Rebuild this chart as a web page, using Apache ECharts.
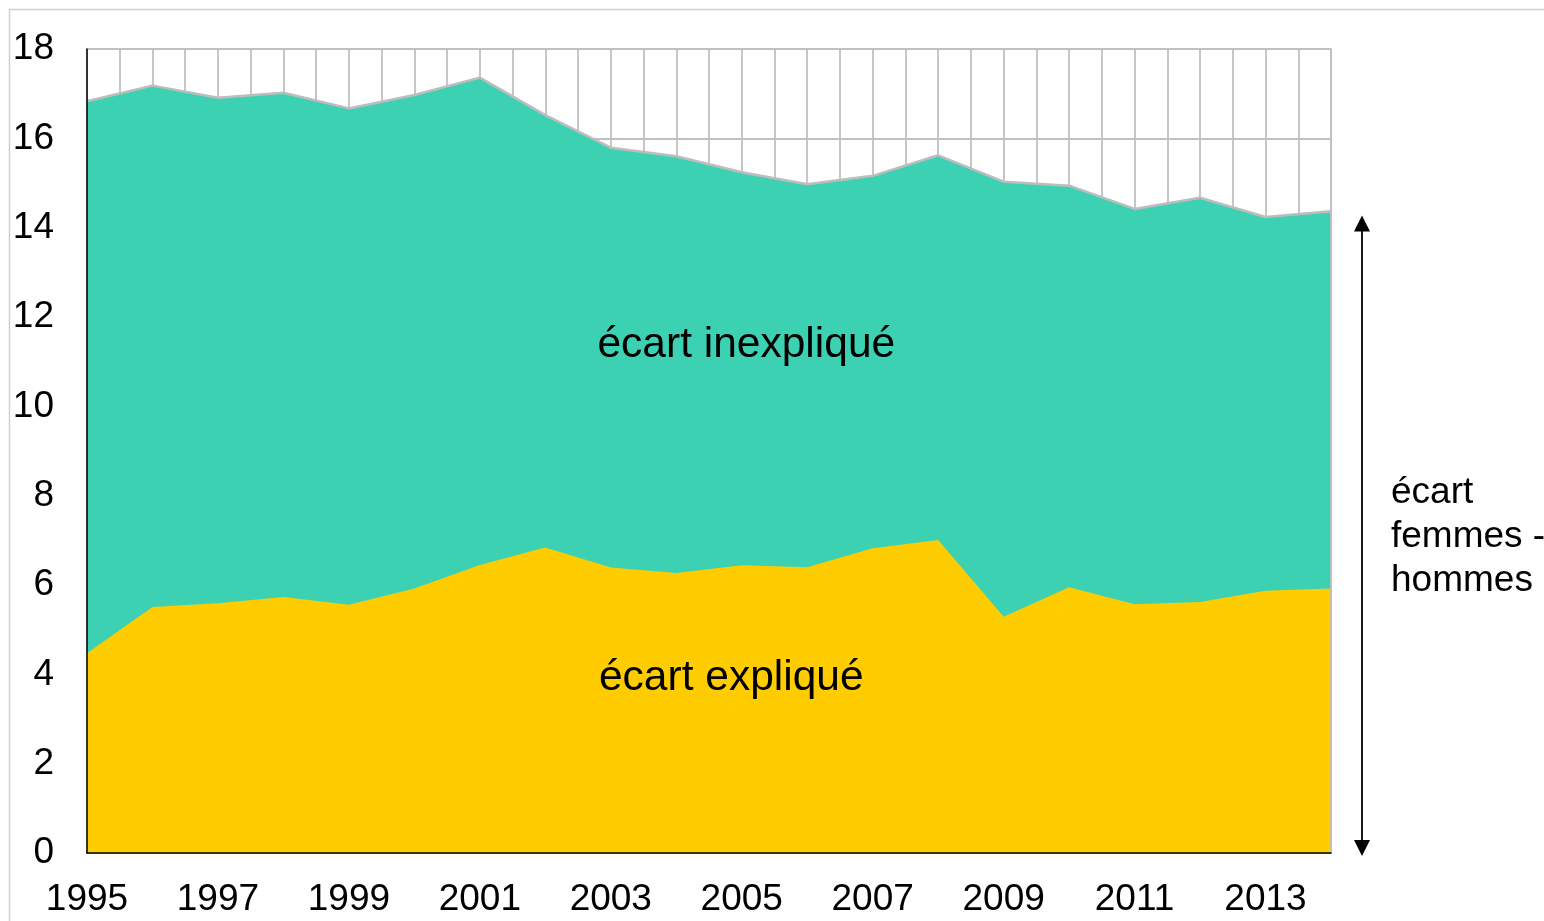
<!DOCTYPE html>
<html>
<head>
<meta charset="utf-8">
<script src="https://cdn.jsdelivr.net/npm/echarts@6/dist/echarts.min.js"></script>
<style>
  html, body { margin: 0; padding: 0; background: #fff; }
  #chart { width: 1544px; height: 921px; }
</style>
</head>
<body>
<div id="chart"></div>
<script>
// écart salarial femmes-hommes (%), décomposition
const years = [1995, 1996, 1997, 1998, 1999, 2000, 2001, 2002, 2003, 2004,
               2005, 2006, 2007, 2008, 2009, 2010, 2011, 2012, 2013, 2014];
const totalGap = [16.83, 17.18, 16.91, 17.02, 16.67, 16.97, 17.36, 16.52, 15.79, 15.60,
                  15.24, 14.97, 15.16, 15.62, 15.03, 14.94, 14.42, 14.67, 14.24, 14.37];
const explainedGap = [4.47, 5.51, 5.59, 5.73, 5.56, 5.92, 6.45, 6.84, 6.39, 6.27,
                      6.44, 6.40, 6.82, 7.01, 5.29, 5.95, 5.57, 5.62, 5.87, 5.92];
const xTickLabels = [1995, 1997, 1999, 2001, 2003, 2005, 2007, 2009, 2011, 2013];
const yTicks = [0, 2, 4, 6, 8, 10, 12, 14, 16, 18];

const FONT = "'Liberation Sans', Arial, sans-serif";
const GRID_GRAY = "#C0C0C0";

const pairs = (vals) => years.map((y, i) => [y, vals[i]]);

const chart = echarts.init(document.getElementById("chart"));

const option = {
  animation: false,
  backgroundColor: "#fff",
  grid: { left: 87, right: 213, top: 49, bottom: 68 },
  xAxis: [
    {
      type: "value",
      min: years[0],
      max: years[years.length - 1],
      interval: 0.5,
      axisLine: { show: false },
      axisTick: { show: false },
      splitLine: { show: true, lineStyle: { color: GRID_GRAY, width: 1.8 } },
      axisLabel: {
        margin: 28,
        fontSize: 37,
        fontFamily: FONT,
        color: "#000",
        formatter: (v) => (xTickLabels.includes(Math.round(v * 2) / 2) ? String(v) : ""),
      },
    },
    {
      type: "value",
      position: "bottom",
      min: years[0],
      max: years[years.length - 1],
      z: 10,
      axisLine: { show: true, lineStyle: { color: "#000", width: 1.5 } },
      axisTick: { show: false },
      axisLabel: { show: false },
      splitLine: { show: false },
    },
  ],
  yAxis: [
    {
      type: "value",
      min: yTicks[0],
      max: yTicks[yTicks.length - 1],
      interval: 2,
      axisLine: { show: false },
      axisTick: { show: false },
      splitLine: { show: true, lineStyle: { color: GRID_GRAY, width: 1.8 } },
      axisLabel: {
        margin: 33,
        fontSize: 37,
        fontFamily: FONT,
        color: "#000",
      },
    },
    {
      type: "value",
      position: "left",
      min: yTicks[0],
      max: yTicks[yTicks.length - 1],
      z: 10,
      axisLine: { show: true, onZero: false, lineStyle: { color: "#000", width: 1.5 } },
      axisTick: { show: false },
      axisLabel: { show: false },
      splitLine: { show: false },
    },
    {
      type: "value",
      position: "right",
      min: yTicks[0],
      max: yTicks[yTicks.length - 1],
      z: 10,
      axisLine: { show: true, onZero: false, lineStyle: { color: GRID_GRAY, width: 1.8 } },
      axisTick: { show: false },
      axisLabel: { show: false },
      splitLine: { show: false },
    },
  ],
  series: [
    {
      name: "écart femmes - hommes",
      type: "line",
      data: pairs(totalGap),
      symbol: "none",
      z: 2,
      lineStyle: { color: "#BDBDBD", width: 2.5 },
      areaStyle: { color: "#3DD1B4", opacity: 1 },
    },
    {
      name: "écart expliqué",
      type: "line",
      data: pairs(explainedGap),
      symbol: "none",
      z: 3,
      lineStyle: { width: 0 },
      areaStyle: { color: "#FFCC00", opacity: 1 },
    },
  ],
};

chart.setOption(option);

// annotations placed from data coordinates
const px = (x, y) => chart.convertToPixel({ seriesIndex: 0 }, [x, y]);
const origin = px(2014, 0);
const arrowTopPt = px(2014, 14.27);
const ax = origin[0] + 31;
const inexp = px(2005.07, 11.37);
const exp = px(2004.84, 3.92);
const side = px(2014, 7.07);

const textStyle = (txt, x, y, size, align) => ({
  type: "text",
  x: x,
  y: y,
  z: 20,
  style: {
    text: txt,
    fill: "#000",
    font: size + "px " + FONT,
    textAlign: align,
    textVerticalAlign: "middle",
    lineHeight: 44,
  },
});

chart.setOption({
  graphic: [
    {
      type: "rect",
      z: 0,
      shape: { x: 9.5, y: 9.5, width: 2000, height: 2000 },
      style: { fill: "none", stroke: "#D0D0D0", lineWidth: 1.5 },
    },
    {
      type: "line",
      z: 20,
      shape: { x1: ax, y1: arrowTopPt[1] + 12, x2: ax, y2: origin[1] - 10 },
      style: { stroke: "#000", lineWidth: 1.8 },
    },
    {
      type: "polygon",
      z: 20,
      shape: { points: [[ax, arrowTopPt[1]], [ax - 8, arrowTopPt[1] + 16], [ax + 8, arrowTopPt[1] + 16]] },
      style: { fill: "#000" },
    },
    {
      type: "polygon",
      z: 20,
      shape: { points: [[ax, origin[1] + 3], [ax - 8, origin[1] - 13], [ax + 8, origin[1] - 13]] },
      style: { fill: "#000" },
    },
    textStyle("écart inexpliqué", inexp[0], inexp[1], 42.5, "center"),
    textStyle("écart expliqué", exp[0], exp[1], 42.5, "center"),
    textStyle("écart\nfemmes -\nhommes", side[0] + 60, side[1], 37, "left"),
  ],
});
</script>
</body>
</html>
